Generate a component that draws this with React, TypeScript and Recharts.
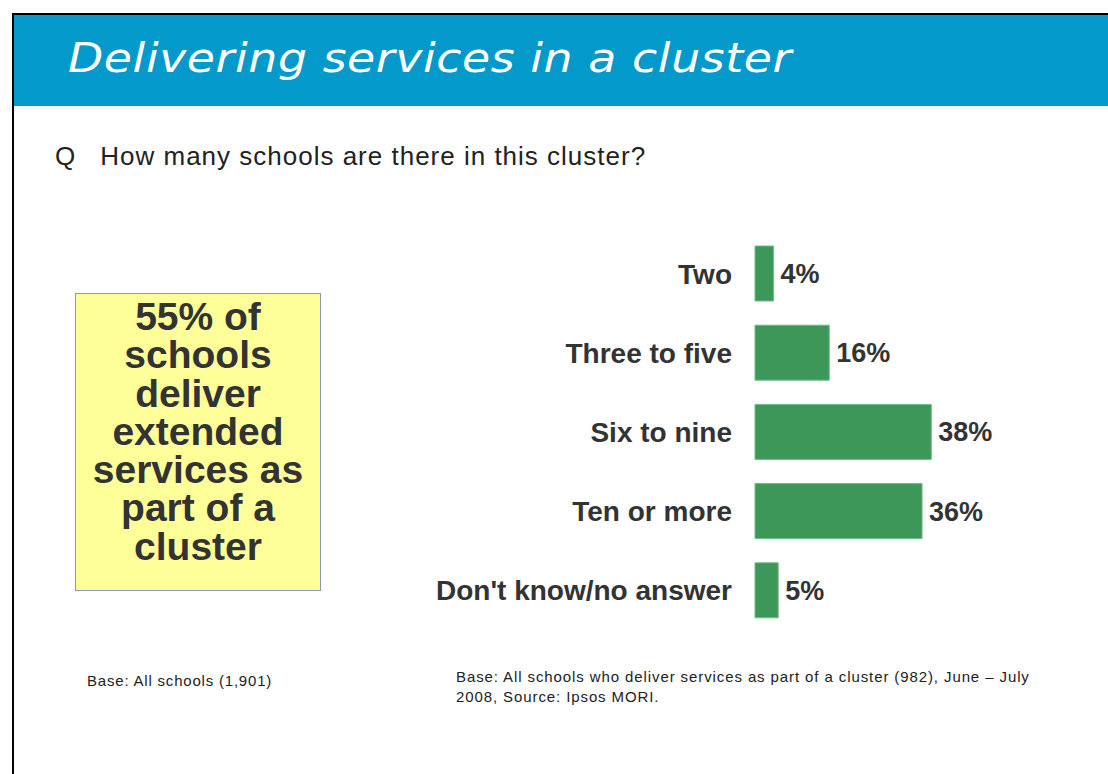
import { BarChart, Bar, XAxis, YAxis, LabelList } from 'recharts';

const categories = ['Two', 'Three to five', 'Six to nine', 'Ten or more', "Don't know/no answer"];
const shares = [4, 16, 38, 36, 5];

const data = categories.map((name, i) => ({ name, value: shares[i] }));

const sans = '"Liberation Sans", Arial, sans-serif';

export default function App() {
  return (
    <div style={{ position: 'absolute', left: 0, top: 0, width: 1108, height: 774, background: '#fff', overflow: 'hidden', fontFamily: sans }}>
      {/* slide frame */}
      <div style={{ position: 'absolute', left: 12, top: 13, width: 1120, height: 800, borderLeft: '2px solid #000', borderTop: '2px solid #000' }} />
      <div style={{ position: 'absolute', left: 14, top: 15, width: 1094, height: 91, background: '#039ACB' }} />
      <div style={{ position: 'absolute', left: 68, top: 34, color: '#fff', fontFamily: '"DejaVu Sans", Verdana, sans-serif', fontStyle: 'italic', fontSize: 40, letterSpacing: 0.5, lineHeight: '48px', whiteSpace: 'nowrap', transform: 'scaleX(1.145)', transformOrigin: 'left center' }}>
        Delivering services in a cluster
      </div>

      <div style={{ position: 'absolute', left: 55, top: 142, fontSize: 26, letterSpacing: 1, color: '#222', whiteSpace: 'nowrap', lineHeight: '28px' }}>
        Q<span style={{ display: 'inline-block', width: 24 }} />How many schools are there in this cluster?
      </div>

      <div style={{ position: 'absolute', left: 75, top: 293, width: 244, height: 296, background: '#FFFF99', border: '1px solid #8A98C4', boxSizing: 'content-box' }}>
        <div style={{ paddingTop: 4, textAlign: 'center', fontWeight: 'bold', fontSize: 39, lineHeight: '38.3px', color: '#333', whiteSpace: 'nowrap' }}>
          55% of<br />schools<br />deliver<br />extended<br />services as<br />part of a<br />cluster
        </div>
      </div>

      <div style={{ position: 'absolute', left: 400, top: 220 }}>
        <BarChart width={650} height={430} data={data} layout="vertical" margin={{ top: 14, right: 63, bottom: 20, left: 0 }} barCategoryGap={12}>
          <XAxis type="number" domain={[0, 50]} hide />
          <YAxis
            type="category"
            dataKey="name"
            width={355}
            axisLine={false}
            tickLine={false}
            tickSize={0}
            tickMargin={23}
            tick={{ fill: '#333', fontSize: 28, fontWeight: 'bold', fontFamily: sans }}
            interval={0}
          />
          <Bar dataKey="value" fill="#3C9758" stroke="#6DBE85" strokeWidth={1} isAnimationActive={false}>
            <LabelList
              dataKey="value"
              position="right"
              offset={7}
              formatter={(v: number) => `${v}%`}
              style={{ fill: '#333', fontSize: 27, fontWeight: 'bold', fontFamily: sans }}
            />
          </Bar>
        </BarChart>
      </div>

      <div style={{ position: 'absolute', left: 87, top: 671, fontSize: 15, letterSpacing: 0.8, color: '#222', lineHeight: '20px', whiteSpace: 'nowrap' }}>
        Base: All schools (1,901)
      </div>
      <div style={{ position: 'absolute', left: 456, top: 667, width: 600, fontSize: 15, letterSpacing: 0.9, color: '#222', lineHeight: '20px', whiteSpace: 'nowrap' }}>
        Base: All schools who deliver services as part of a cluster (982), June – July<br />2008, Source: Ipsos MORI.
      </div>
    </div>
  );
}
